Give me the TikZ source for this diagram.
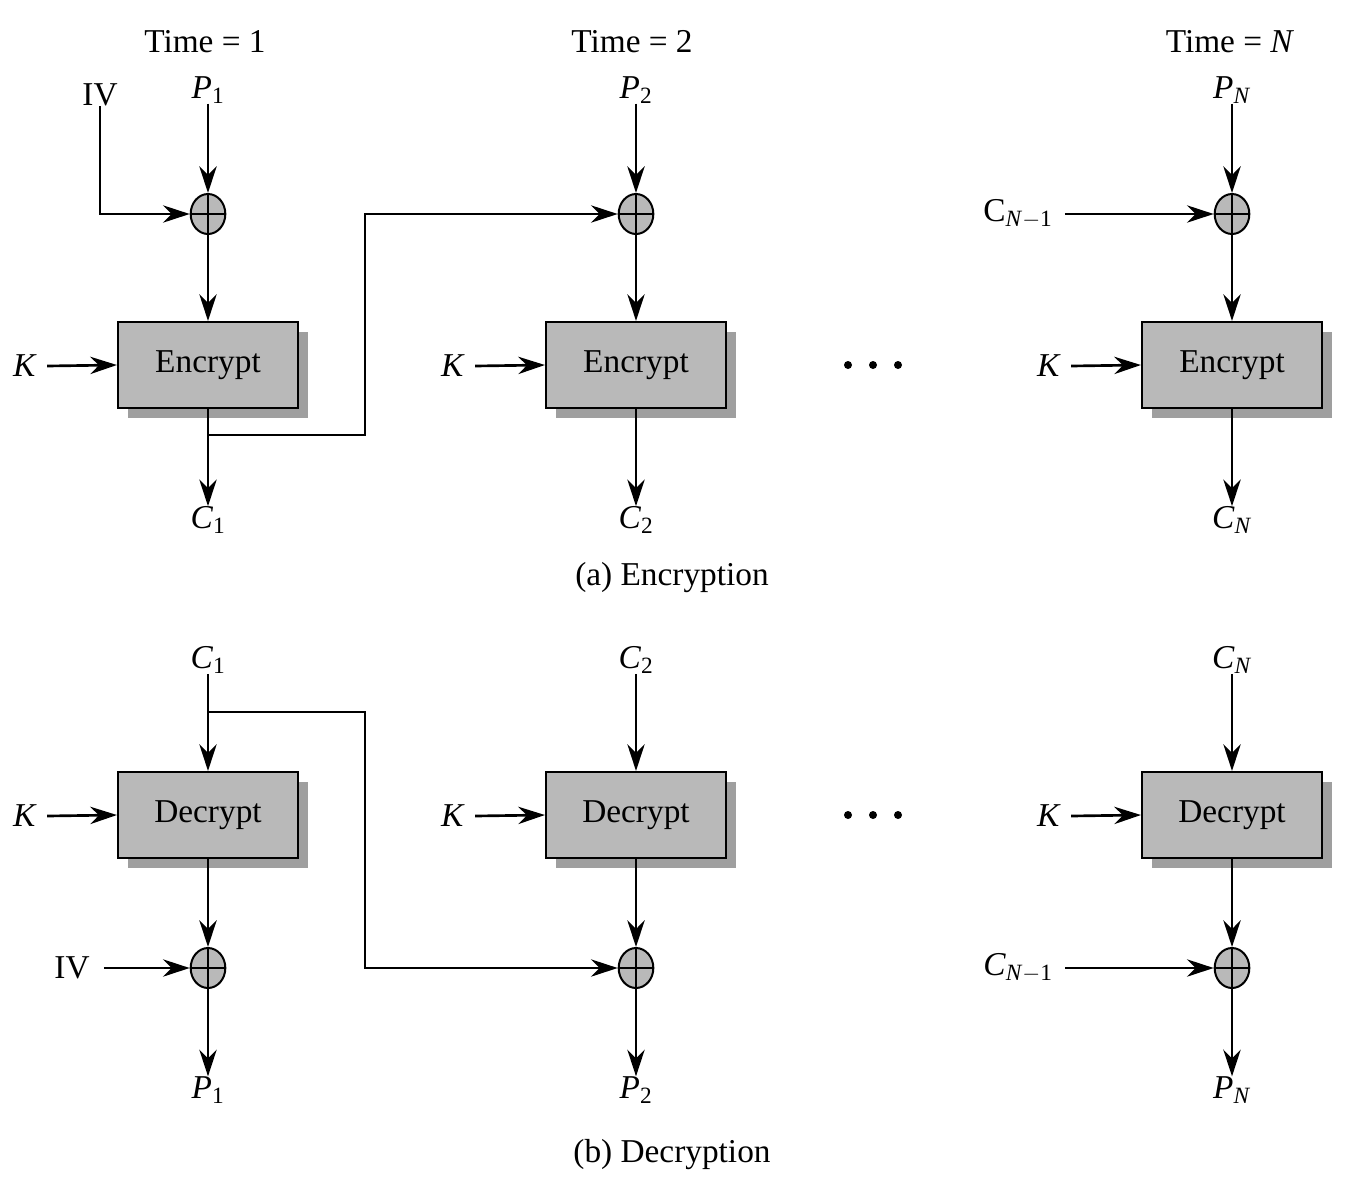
\documentclass[tikz,border=0pt]{standalone}
\usepackage{fontspec}
\setmainfont{Liberation Serif}
\usetikzlibrary{arrows.meta,shapes.geometric}
\newcommand{\vsub}[2]{\textit{#1}\textsubscript{#2}}
\begin{document}
\begin{tikzpicture}[x=0.75pt,y=-0.75pt,
  txt/.style={font=\fontsize{25}{28}\selectfont,inner sep=0pt},
  box/.style={draw,line width=1.6pt,fill=gray!55,minimum width=135pt,minimum height=64.5pt,font=\fontsize{25}{28}\selectfont,inner sep=0pt},
  xor/.style={draw,line width=1.5pt,fill=gray!55,ellipse,minimum width=26pt,minimum height=30pt,inner sep=0pt,
     path picture={\draw[line width=1.3pt] (path picture bounding box.north)--(path picture bounding box.south)
       (path picture bounding box.west)--(path picture bounding box.east);}},
  arr/.style={-{Stealth[length=20pt,width=13pt]},line width=2pt},
  dot/.style={circle,fill,inner sep=0pt,minimum size=6pt}]
\useasboundingbox (0,0) rectangle (1345,1200);
% shadows
\foreach \x in {208,636,1232}{
  \fill[gray!75] (\x-80,332) rectangle (\x+100,418);
  \fill[gray!75] (\x-80,782) rectangle (\x+100,868);
}
% Encryption
\node[txt] (t1) at (205,42) {Time = 1};
\node[txt] (t2) at (632,42) {Time = 2};
\node[txt] (tn) at (1230,42) {Time = \textit{N}};
\node[txt] (iv) at (100,95) {IV};
\foreach \i/\x/\s in {1/208/1,2/636/2,3/1232/\textit{N}}{
  \node[txt] (p\i) at (\x,90) {\vsub{P}{\s}};
  \node[xor] (x\i) at (\x,214) {};
  \node[box] (e\i) at (\x,365) {Encrypt};
  \node[txt] (c\i) at (\x,520) {\vsub{C}{\s}};
  \node[txt] (k\i) at (\x-183,366) {\textit{K}};
  \draw[arr] (p\i) -- (x\i);
  \draw[arr] (x\i) -- (e\i);
  \draw[arr] (e\i) -- (c\i);
  \draw[arr] (k\i.east)++(10,0) -- (e\i.west);
}
\draw[arr] (iv.south) |- (x1.west);
\coordinate (f1) at (208,435);
\draw[arr] (f1) -| (365,214) -- (x2.west);
\node[txt] (cn1) at (1018,214) {C\textsubscript{\textit{N}$-$1}};
\draw[arr] (cn1.east)++(12,0) -- (x3.west);
\node[dot] (a1) at (848,365) {};
\node[dot] (a2) at (873,365) {};
\node[dot] (a3) at (898,365) {};
\node[txt] (capa) at (672,578) {(a) Encryption};
% Decryption
\foreach \i/\x/\s in {1/208/1,2/636/2,3/1232/\textit{N}}{
  \node[txt] (dc\i) at (\x,660) {\vsub{C}{\s}};
  \node[box] (d\i) at (\x,815) {Decrypt};
  \node[xor] (y\i) at (\x,968) {};
  \node[txt] (dp\i) at (\x,1090) {\vsub{P}{\s}};
  \node[txt] (dk\i) at (\x-183,816) {\textit{K}};
  \draw[arr] (dc\i) -- (d\i);
  \draw[arr] (d\i) -- (y\i);
  \draw[arr] (y\i) -- (dp\i);
  \draw[arr] (dk\i.east)++(10,0) -- (d\i.west);
}
\node[txt] (iv2) at (72,968) {IV};
\draw[arr] (iv2.east)++(14,0) -- (y1.west);
\coordinate (f2) at (208,712);
\draw[arr] (f2) -| (365,968) -- (y2.west);
\node[txt] (cn2) at (1018,968) {\vsub{C}{\textit{N}$-$1}};
\draw[arr] (cn2.east)++(12,0) -- (y3.west);
\node[dot] (b1) at (848,815) {};
\node[dot] (b2) at (873,815) {};
\node[dot] (b3) at (898,815) {};
\node[txt] (capb) at (672,1155) {(b) Decryption};
\end{tikzpicture}
\end{document}
